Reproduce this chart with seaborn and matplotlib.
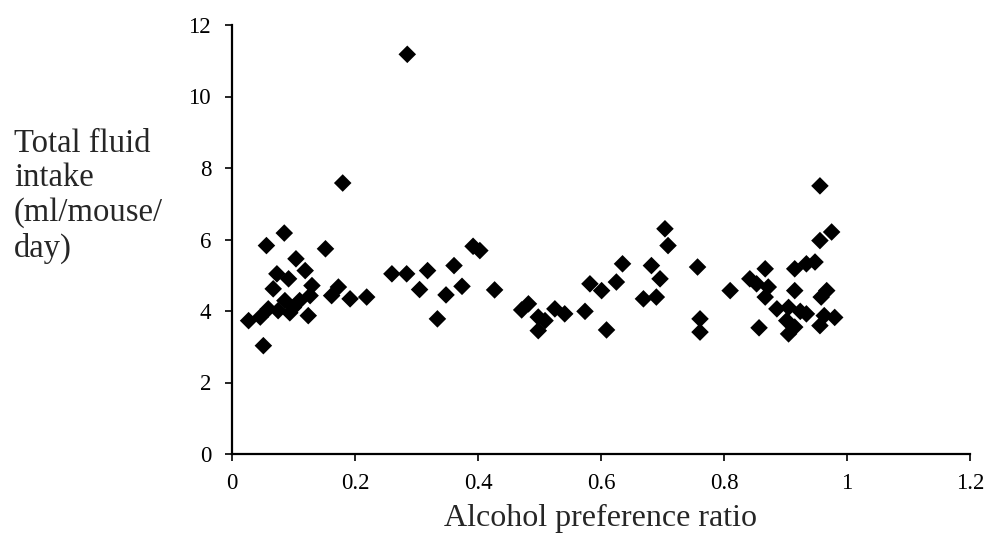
import matplotlib
matplotlib.use("Agg")
import matplotlib.pyplot as plt
import seaborn as sns
import pandas as pd

# -------------------------------------------------------------------
# Data
# -------------------------------------------------------------------

preference_ratio = [
    0.027, 0.046, 0.051, 0.056, 0.059, 0.067, 0.073, 0.075, 0.085, 0.086,
    0.092, 0.094, 0.100, 0.104, 0.110, 0.119, 0.124, 0.127, 0.130, 0.152,
    0.162, 0.173, 0.180, 0.192, 0.219, 0.260, 0.284, 0.285, 0.305, 0.318,
    0.334, 0.348, 0.361, 0.374, 0.392, 0.403, 0.427, 0.471, 0.482, 0.498,
    0.498, 0.509, 0.525, 0.541, 0.574, 0.582, 0.601, 0.609, 0.625, 0.635,
    0.669, 0.682, 0.690, 0.696, 0.704, 0.709, 0.757, 0.761, 0.761, 0.810,
    0.842, 0.853, 0.857, 0.867, 0.867, 0.872, 0.886, 0.902, 0.905, 0.905,
    0.915, 0.915, 0.915, 0.924, 0.934, 0.934, 0.948, 0.956, 0.956, 0.956,
    0.958, 0.963, 0.967, 0.975, 0.980,
]

fluid_intake = [
    3.73, 3.83, 3.03, 5.83, 4.06, 4.62, 5.04, 4.01, 6.18, 4.29,
    4.90, 3.95, 4.10, 5.46, 4.29, 5.13, 3.87, 4.43, 4.71, 5.74,
    4.43, 4.67, 7.58, 4.34, 4.39, 5.04, 5.04, 11.18, 4.60, 5.13,
    3.78, 4.45, 5.27, 4.69, 5.81, 5.69, 4.59, 4.03, 4.20, 3.83,
    3.45, 3.73, 4.06, 3.92, 3.99, 4.76, 4.57, 3.47, 4.81, 5.32,
    4.34, 5.27, 4.39, 4.90, 6.30, 5.83, 5.23, 3.78, 3.41, 4.57,
    4.90, 4.76, 3.53, 5.18, 4.39, 4.67, 4.06, 3.73, 4.10, 3.36,
    5.18, 4.57, 3.55, 3.99, 5.32, 3.92, 5.37, 7.50, 5.97, 3.59,
    4.39, 3.87, 4.57, 6.21, 3.82,
]

x_ticks = [0, 0.2, 0.4, 0.6, 0.8, 1.0, 1.2]
x_tick_labels = ["0", "0.2", "0.4", "0.6", "0.8", "1", "1.2"]
y_ticks = [0, 2, 4, 6, 8, 10, 12]
y_tick_labels = ["0", "2", "4", "6", "8", "10", "12"]

# -------------------------------------------------------------------
# Plot
# -------------------------------------------------------------------

sns.set_style("white")
plt.rcParams["font.family"] = ["Liberation Serif", "DejaVu Serif"]

df = pd.DataFrame({"ratio": preference_ratio, "intake": fluid_intake})

fig = plt.figure(figsize=(9.9, 5.39), dpi=100)
ax = fig.add_axes([232 / 990, 1 - 454 / 539, 738 / 990, 429 / 539])

sns.scatterplot(data=df, x="ratio", y="intake", marker="D", color="black",
                edgecolor="none", s=80, ax=ax, zorder=3)

ax.set_xlim(0, 1.2)
ax.set_ylim(0, 12)
ax.set_xticks(x_ticks)
ax.set_xticklabels(x_tick_labels)
ax.set_yticks(y_ticks)
ax.set_yticklabels(y_tick_labels)
ax.tick_params(axis="both", direction="out", length=5, width=1.2,
               labelsize=16.5, colors="black", bottom=True, left=True)
ax.tick_params(axis="x", pad=9)
ax.tick_params(axis="y", pad=10)

for side in ["top", "right"]:
    ax.spines[side].set_visible(False)
for side in ["left", "bottom"]:
    ax.spines[side].set_color("black")
    ax.spines[side].set_linewidth(1.6)

ax.set_xlabel("Alcohol preference ratio", fontsize=23, labelpad=7)
ax.set_ylabel("")
fig.text(14 / 990, 1 - 196 / 539, "Total fluid\nintake\n(ml/mouse/\nday)",
         fontsize=23.5, ha="left", va="center", linespacing=1.17)

fig.savefig("out.png", dpi=100, facecolor="white")
